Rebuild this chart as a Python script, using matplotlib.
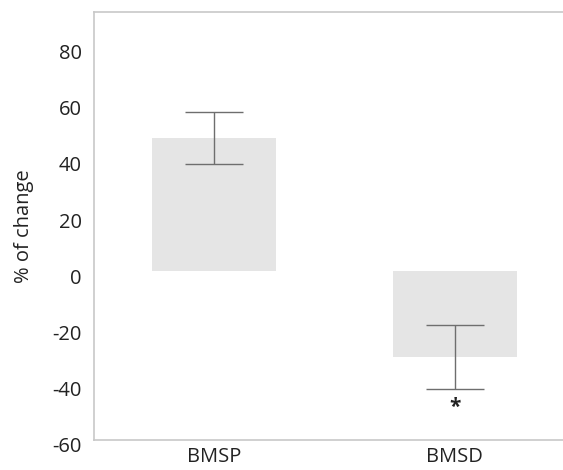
import matplotlib.pyplot as plt
from matplotlib.transforms import ScaledTranslation

plt.rcParams['font.family'] = ['Open Sans', 'DejaVu Sans']
plt.rcParams['axes.unicode_minus'] = False

# data
groups = ['BMSP', 'BMSD']
change = [47.4, -30.5]
err = [9.3, 11.5]
y_ticks = [-60, -40, -20, 0, 20, 40, 60, 80]

fig = plt.figure(figsize=(5.63, 4.70), dpi=100)
ax = fig.add_axes([94/563, 30/470, 469/563, 428/470])

x = list(range(len(groups)))
ax.bar(x, change, width=0.515, color='#e5e5e5', zorder=1)
ax.errorbar(x, change, yerr=err, fmt='none', ecolor='#6e6e6e', elinewidth=1.0,
            capsize=21, capthick=1.0, zorder=2)
ax.text(1, -48.5, '*', ha='center', va='center', fontsize=15, fontweight='bold', color='#222222')

ax.set_xlim(-0.498, 1.45)
ax.set_ylim(-60, 92.3)
ax.set_xticks(x)
ax.set_xticklabels(groups)
ax.set_yticks(y_ticks)
ax.tick_params(axis='both', length=0, labelsize=14.5, labelcolor='#222222')
ax.tick_params(axis='y', pad=9)
ax.tick_params(axis='x', pad=5)
ax.set_ylabel('% of change', fontsize=14.5, color='#222222', labelpad=13)

for side in ['left', 'top', 'bottom']:
    ax.spines[side].set_color('#c8c8c8')
    ax.spines[side].set_linewidth(1.2)
ax.spines['right'].set_visible(False)

# labels sit a little below their tick positions
off = ScaledTranslation(0, -5/100, fig.dpi_scale_trans)
for lab in ax.get_yticklabels():
    lab.set_transform(lab.get_transform() + off)

fig.savefig('out.png', dpi=100)
